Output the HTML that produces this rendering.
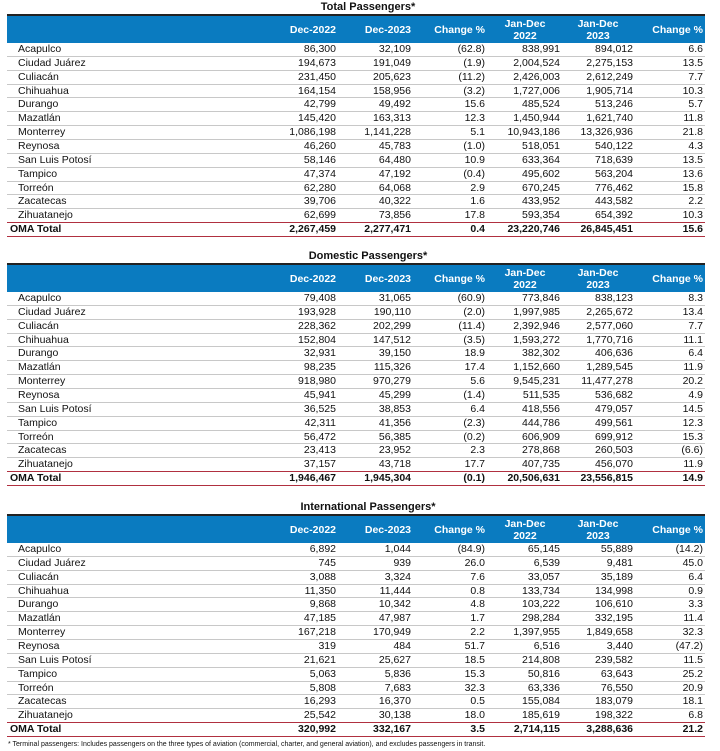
<!DOCTYPE html>
<html><head><meta charset="utf-8">
<style>
body{margin:0;width:720px;height:751px;background:#fff;font-family:"Liberation Sans",sans-serif;position:relative;overflow:hidden;color:#111}
.title{position:absolute;left:0;width:720px;text-align:center;font-weight:bold;font-size:11px;padding-left:8px;line-height:13px}
.tbl{position:absolute;left:7px;width:698px;height:224px;font-size:10.5px}
.hdr{position:absolute;left:0;top:0;width:698px;height:29px;background:#0a7bc0;border-top:2px solid #222;box-sizing:border-box;color:#fff;font-weight:bold}
.hc{position:absolute;top:0;height:27px;line-height:12px;display:flex;align-items:center}
.row{position:absolute;left:0;width:698px;height:13.86px;box-sizing:border-box;border-bottom:1px solid #c8c8c8;line-height:13px}
.row.last{border-bottom:1.5px solid #b03040}
.row.tot{font-weight:bold;border-bottom:1.5px solid #b03040}
.c{position:absolute;top:0;white-space:nowrap}
.foot{position:absolute;left:8px;top:741px;font-size:7px}
</style></head><body>
<div class="title" style="top:1px">Total Passengers*</div>
<div class="tbl" id="t1" style="top:14px"></div>
<div class="title" style="top:250px">Domestic Passengers*</div>
<div class="tbl" id="t2" style="top:263px"></div>
<div class="title" style="top:501px">International Passengers*</div>
<div class="tbl" id="t3" style="top:514px"></div>
<div class="foot">* Terminal passengers: Includes passengers on the three types of aviation (commercial, charter, and general aviation), and excludes passengers in transit.</div>
<script>
const airports=["Acapulco","Ciudad Juárez","Culiacán","Chihuahua","Durango","Mazatlán","Monterrey","Reynosa","San Luis Potosí","Tampico","Torreón","Zacatecas","Zihuatanejo","OMA Total"];
const totalRows=[
["86,300","32,109","(62.8)","838,991","894,012","6.6"],
["194,673","191,049","(1.9)","2,004,524","2,275,153","13.5"],
["231,450","205,623","(11.2)","2,426,003","2,612,249","7.7"],
["164,154","158,956","(3.2)","1,727,006","1,905,714","10.3"],
["42,799","49,492","15.6","485,524","513,246","5.7"],
["145,420","163,313","12.3","1,450,944","1,621,740","11.8"],
["1,086,198","1,141,228","5.1","10,943,186","13,326,936","21.8"],
["46,260","45,783","(1.0)","518,051","540,122","4.3"],
["58,146","64,480","10.9","633,364","718,639","13.5"],
["47,374","47,192","(0.4)","495,602","563,204","13.6"],
["62,280","64,068","2.9","670,245","776,462","15.8"],
["39,706","40,322","1.6","433,952","443,582","2.2"],
["62,699","73,856","17.8","593,354","654,392","10.3"],
["2,267,459","2,277,471","0.4","23,220,746","26,845,451","15.6"]];
const domesticRows=[
["79,408","31,065","(60.9)","773,846","838,123","8.3"],
["193,928","190,110","(2.0)","1,997,985","2,265,672","13.4"],
["228,362","202,299","(11.4)","2,392,946","2,577,060","7.7"],
["152,804","147,512","(3.5)","1,593,272","1,770,716","11.1"],
["32,931","39,150","18.9","382,302","406,636","6.4"],
["98,235","115,326","17.4","1,152,660","1,289,545","11.9"],
["918,980","970,279","5.6","9,545,231","11,477,278","20.2"],
["45,941","45,299","(1.4)","511,535","536,682","4.9"],
["36,525","38,853","6.4","418,556","479,057","14.5"],
["42,311","41,356","(2.3)","444,786","499,561","12.3"],
["56,472","56,385","(0.2)","606,909","699,912","15.3"],
["23,413","23,952","2.3","278,868","260,503","(6.6)"],
["37,157","43,718","17.7","407,735","456,070","11.9"],
["1,946,467","1,945,304","(0.1)","20,506,631","23,556,815","14.9"]];
const intlRows=[
["6,892","1,044","(84.9)","65,145","55,889","(14.2)"],
["745","939","26.0","6,539","9,481","45.0"],
["3,088","3,324","7.6","33,057","35,189","6.4"],
["11,350","11,444","0.8","133,734","134,998","0.9"],
["9,868","10,342","4.8","103,222","106,610","3.3"],
["47,185","47,987","1.7","298,284","332,195","11.4"],
["167,218","170,949","2.2","1,397,955","1,849,658","32.3"],
["319","484","51.7","6,516","3,440","(47.2)"],
["21,621","25,627","18.5","214,808","239,582","11.5"],
["5,063","5,836","15.3","50,816","63,643","25.2"],
["5,808","7,683","32.3","63,336","76,550","20.9"],
["16,293","16,370","0.5","155,084","183,079","18.1"],
["25,542","30,138","18.0","185,619","198,322","6.8"],
["320,992","332,167","3.5","2,714,115","3,288,636","21.2"]];
const headers=["Dec-2022","Dec-2023","Change %","Jan-Dec<br>2022","Jan-Dec<br>2023","Change %"];
const ROWH=13.86, HDRH=29, X0=7;
const rightEdges=[338,413,487,562,635,705];
const hdrCenters=[null,null,null,525,598,null];
function build(id,rows){
  const t=document.getElementById(id);
  const h=document.createElement('div');h.className='hdr';
  
  
  headers.forEach((txt,i)=>{
    const s=document.createElement('div');s.className='hc';s.innerHTML=txt;
    
    
    if(hdrCenters[i]){s.style.left=(hdrCenters[i]-X0-40)+'px';s.style.width='80px';s.style.justifyContent='center';s.style.textAlign='center';}
    else{s.style.right=(698-(rightEdges[i]-X0)+2)+'px';}
    h.appendChild(s);
  });
  t.appendChild(h);
  rows.forEach((r,i)=>{
    const row=document.createElement('div');
    row.className='row'+(i==13?' tot':(i==12?' last':''));
    row.style.top=(HDRH+i*ROWH)+'px';
    
    
    const n=document.createElement('span');n.className='c';n.textContent=airports[i];
    n.style.left=(i==13?3:11)+'px';
    
    
    row.appendChild(n);
    r.forEach((v,j)=>{
      const s=document.createElement('span');s.className='c';s.textContent=v;
      s.style.right=(698-(rightEdges[j]-X0)+2)+'px';
      
      
      row.appendChild(s);
    });
    t.appendChild(row);
  });
}
build('t1',totalRows);build('t2',domesticRows);build('t3',intlRows);
</script>
</body></html>
